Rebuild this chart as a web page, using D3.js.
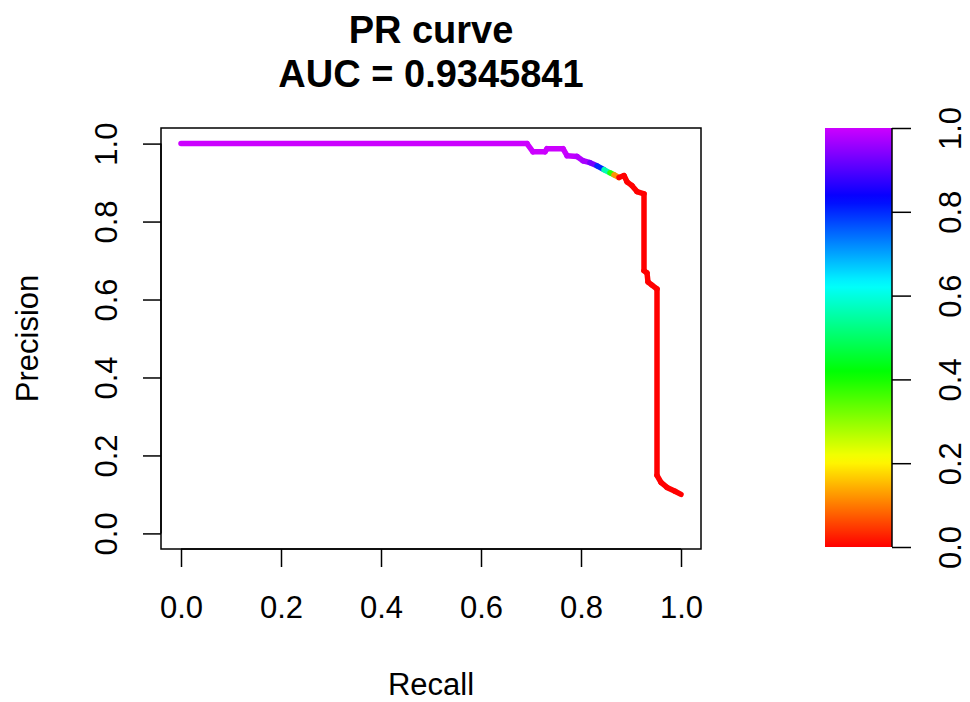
<!DOCTYPE html>
<html>
<head>
<meta charset="utf-8">
<script src="https://cdn.jsdelivr.net/npm/d3@7"></script>
<style>
  html, body { margin: 0; padding: 0; background: #fff; }
  svg { display: block; }
  text { font-family: "Liberation Sans", Arial, sans-serif; fill: #000; }
</style>
</head>
<body>
<svg id="chart" width="970" height="702"></svg>
<script>
// ---- data ----
const recall    = [0.000, 0.692, 0.704, 0.728, 0.732, 0.764, 0.772, 0.792, 0.804, 0.818, 0.832, 0.846, 0.858, 0.866, 0.876, 0.886, 0.892, 0.902, 0.912, 0.926, 0.926, 0.932, 0.934, 0.942, 0.952, 0.952, 0.960, 0.972, 0.988, 1.000];
const precision = [1.000, 1.000, 0.979, 0.979, 0.987, 0.987, 0.969, 0.967, 0.956, 0.951, 0.943, 0.933, 0.925, 0.920, 0.913, 0.918, 0.902, 0.892, 0.877, 0.871, 0.674, 0.668, 0.645, 0.637, 0.627, 0.149, 0.131, 0.118, 0.108, 0.100];
const score     = [1.000, 1.000, 1.000, 1.000, 1.000, 1.000, 0.990, 0.980, 0.970, 0.930, 0.800, 0.560, 0.380, 0.120, 0.000, 0.000, 0.000, 0.000, 0.000, 0.000, 0.000, 0.000, 0.000, 0.000, 0.000, 0.000, 0.000, 0.000, 0.000, 0.000];
const xTicks = [0.0, 0.2, 0.4, 0.6, 0.8, 1.0];
const yTicks = [0.0, 0.2, 0.4, 0.6, 0.8, 1.0];
const barTicks = [0.0, 0.2, 0.4, 0.6, 0.8, 1.0];
const titleLines = ["PR curve", "AUC = 0.9345841"];
const xLabel = "Recall";
const yLabel = "Precision";

// ---- layout ----
const svg = d3.select("#chart");
const box = { left: 161, right: 701, top: 128, bottom: 549 };
const bar = { left: 825, right: 892, top: 128, bottom: 547 };
const fs = 31;

const x = d3.scaleLinear().domain([-0.04, 1.04]).range([box.left, box.right]);
const y = d3.scaleLinear().domain([-0.04, 1.04]).range([box.bottom, box.top]);
// colour: R-style rainbow from red (0) to purple (1)
const color = v => d3.hsl(v * 0.8 * 360, 1, 0.5).toString();

// title
svg.append("g").selectAll("text").data(titleLines).join("text")
  .attr("x", (box.left + box.right) / 2)
  .attr("y", (d, i) => 43 + i * 44)
  .attr("text-anchor", "middle")
  .style("font-size", "38px").style("font-weight", "bold")
  .text(d => d);

// curve segments
const pts = recall.map((r, i) => ({ r, p: precision[i], s: score[i] }));
const segs = d3.pairs(pts);
svg.append("g").selectAll("line").data(segs).join("line")
  .attr("x1", d => x(d[0].r)).attr("y1", d => y(d[0].p))
  .attr("x2", d => x(d[1].r)).attr("y2", d => y(d[1].p))
  .attr("stroke", d => color(d[0].s))
  .attr("stroke-width", 5.5)
  .attr("stroke-linecap", "round");

// frame
svg.append("rect")
  .attr("x", box.left).attr("y", box.top)
  .attr("width", box.right - box.left).attr("height", box.bottom - box.top)
  .attr("fill", "none").attr("stroke", "#000").attr("stroke-width", 1.5);

// x axis
const xAxis = d3.axisBottom(x).tickValues(xTicks).tickFormat(d3.format(".1f")).tickSize(18).tickPadding(29);
const gx = svg.append("g").attr("transform", `translate(0,${box.bottom})`).call(xAxis);
gx.select(".domain").attr("d", `M${x(0)},0H${x(1)}`).attr("stroke-width", 1.5);
gx.selectAll(".tick line").attr("stroke-width", 1.5);
gx.selectAll("text").style("font-size", fs + "px").attr("font-family", null);

// y axis
const yAxis = d3.axisLeft(y).tickValues(yTicks).tickFormat(d3.format(".1f")).tickSize(18).tickPadding(0);
const gy = svg.append("g").attr("transform", `translate(${box.left},0)`).call(yAxis);
gy.select(".domain").attr("d", `M0,${y(0)}V${y(1)}`).attr("stroke-width", 1.5);
gy.selectAll(".tick line").attr("stroke-width", 1.5);
gy.selectAll(".tick text")
  .attr("x", null).attr("dy", null)
  .attr("text-anchor", "middle")
  .attr("dominant-baseline", "central")
  .attr("transform", "translate(-55,0) rotate(-90)")
  .style("font-size", fs + "px");

// axis labels
svg.append("text").attr("x", (box.left + box.right) / 2).attr("y", 695)
  .attr("text-anchor", "middle").style("font-size", fs + "px").text(xLabel);
svg.append("text").attr("transform", `translate(38,${(box.top + box.bottom) / 2}) rotate(-90)`)
  .attr("text-anchor", "middle").style("font-size", fs + "px").text(yLabel);

// colour bar
const b = d3.scaleLinear().domain([0, 1]).range([bar.bottom, bar.top]);
const defs = svg.append("defs");
const grad = defs.append("linearGradient").attr("id", "rb")
  .attr("x1", 0).attr("y1", 1).attr("x2", 0).attr("y2", 0);
grad.selectAll("stop").data(d3.range(0, 1.0001, 0.02)).join("stop")
  .attr("offset", d => d).attr("stop-color", d => color(d));
svg.append("rect")
  .attr("x", bar.left).attr("y", bar.top)
  .attr("width", bar.right - bar.left).attr("height", bar.bottom - bar.top)
  .attr("fill", "url(#rb)");
const bAxis = d3.axisRight(b).tickValues(barTicks).tickFormat(d3.format(".1f")).tickSize(19).tickPadding(0);
const gb = svg.append("g").attr("transform", `translate(${bar.right},0)`).call(bAxis);
gb.select(".domain").attr("d", `M0,${b(0)}V${b(1)}`).attr("stroke-width", 1.5);
gb.selectAll(".tick line").attr("stroke-width", 1.5);
gb.selectAll(".tick text")
  .attr("x", null).attr("dy", null)
  .attr("text-anchor", "middle")
  .attr("dominant-baseline", "central")
  .attr("transform", "translate(58,0) rotate(-90)")
  .style("font-size", fs + "px");
</script>
</body>
</html>
